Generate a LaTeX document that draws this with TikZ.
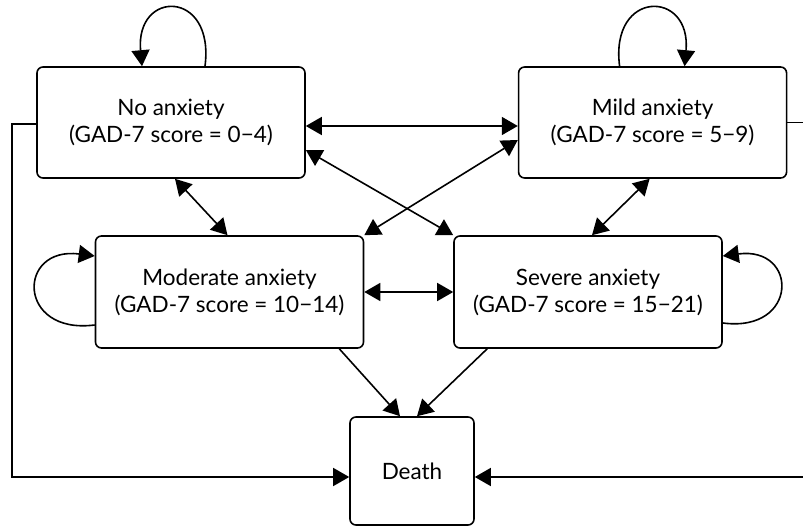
\documentclass[tikz,border=0pt]{standalone}
\usepackage{fontspec}
\setmainfont{Lato}
\usetikzlibrary{positioning,arrows.meta}
\tikzset{state/.style={draw,rounded corners=6pt,line width=1.6pt,align=center,
    minimum width=268pt,minimum height=111pt,inner sep=0pt,
    font=\fontsize{22.5}{27}\selectfont}}
\tikzset{link/.style={line width=1.6pt,-{Triangle[length=16pt,width=18pt]}}}
\tikzset{both/.style={link,{Triangle[length=16pt,width=18pt]}-{Triangle[length=16pt,width=18pt]}}}

\begin{document}
\begin{tikzpicture}[x=1pt,y=-1pt]
		\clip (0,0) rectangle (803,529);
		% Draw states
		\node[state] (noanx) at (171,122.5) {No anxiety\\(GAD-7 score = 0−4)};
		\node[state, right = 212pt of noanx] (mild) {Mild anxiety\\(GAD-7 score = 5−9)};
		\node[state, minimum height=112pt] (moder) at (229.5,292) {Moderate anxiety\\(GAD-7 score = 10−14)};
		\node[state, minimum height=112pt] (severe) at (588,292) {Severe anxiety\\(GAD-7 score = 15−21)};
		\node[state, minimum width=124pt, minimum height=108pt] (death) at (412,471) {Death};
		\coordinate (lft) at (12,0);
		\coordinate (rgt) at (808,0);
		% Draw transitions between states
		\draw[both] ([yshift=-3.5pt]noanx.east) -- ([yshift=-3.5pt]mild.west);
		\draw[both] ([yshift=-27.5pt]noanx.east) -- (severe.north west);
		\draw[both] ([yshift=-17.5pt]mild.west) -- (moder.north east);
		\draw[both] ([xshift=4pt]noanx.south) -- ([xshift=-2pt]moder.north);
		\draw[both] ([xshift=-3pt]mild.south) -- ([xshift=4pt]moder.north -| severe.north);
		\draw[both] (moder.east) -- (severe.west);
		\draw[link] ([xshift=-25pt]moder.south east) -- ([xshift=-12pt]death.north);
		\draw[link] ([xshift=34pt]severe.south west) -- ([xshift=5pt]death.north);
		\draw[link] ([yshift=-1.5pt]noanx.west) -| ([yshift=-6pt]lft |- death.west) -- ([yshift=-6pt]death.west);
		\draw[link] (mild.east) -| ([yshift=-6pt]rgt |- death.east) -- ([yshift=-6pt]death.east);
		% Draw self loops
		\draw[link] ([xshift=34pt]noanx.north) .. controls +(10,-77) and +(-7,-77) .. ([xshift=-29pt]noanx.north);
		\draw[link] ([xshift=-33pt]mild.north) .. controls +(-10,-77) and +(7,-77) .. ([xshift=32pt]mild.north);
		\draw[link] ([yshift=-33pt]moder.west) .. controls +(-78,10) and +(-78,-10) .. ([yshift=36pt]moder.west);
		\draw[link] ([yshift=-31pt]severe.east) .. controls +(76,10) and +(76,-10) .. ([yshift=36pt]severe.east);
	\end{tikzpicture}
\end{document}
